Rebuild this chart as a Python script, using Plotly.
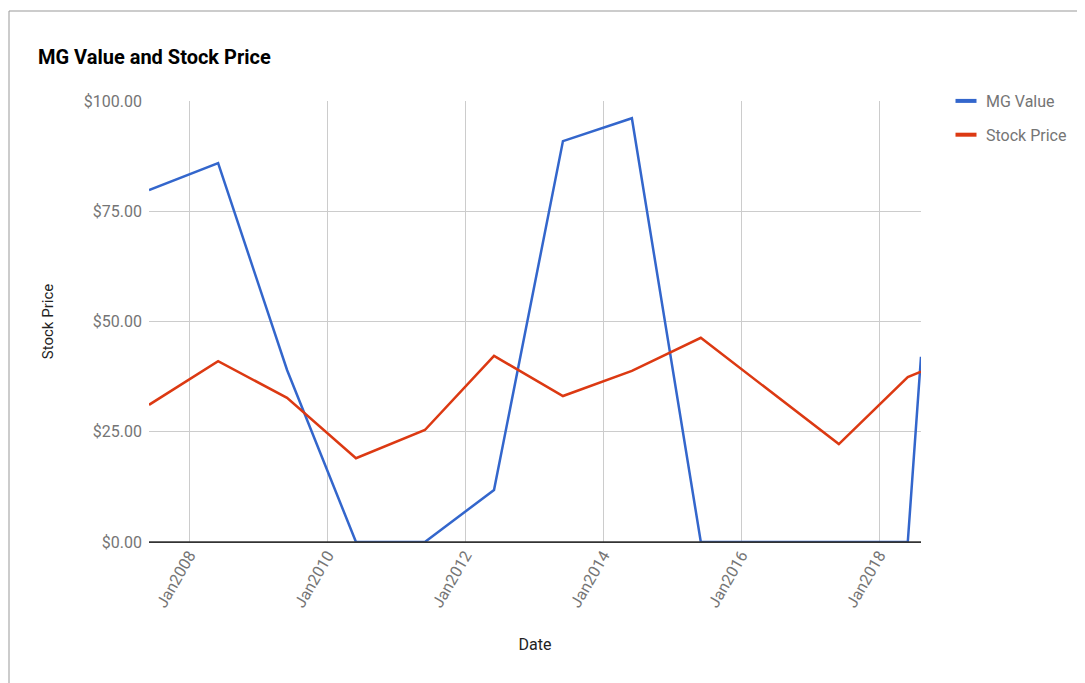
import plotly.graph_objects as go

dates = ["2007-06-01", "2008-06-01", "2009-06-01", "2010-06-01", "2011-06-01",
         "2012-06-01", "2013-06-01", "2014-06-01", "2015-06-01", "2017-06-01",
         "2018-06-01", "2018-08-10"]
mg_value = [79.8, 85.9, 39.0, 0.0, 0.0, 11.8, 90.9, 96.1, 0.0, 0.0, 0.0, 42.0]
stock_price = [31.1, 41.0, 32.7, 19.0, 25.4, 42.2, 33.1, 38.8, 46.3, 22.2, 37.4, 38.6]
series_names = ["MG Value", "Stock Price"]
series_colors = ["#3366cc", "#dc3912"]

tick_dates = ["2008-01-01", "2010-01-01", "2012-01-01", "2014-01-01", "2016-01-01", "2018-01-01"]
y_ticks = [0, 25, 50, 75, 100]

W, H = 1085, 683
L, R, T, B = 141, 913, 93, 534
PW, PH = R - L, B - T

fig = go.Figure()
for name, vals, col in zip(series_names, [mg_value, stock_price], series_colors):
    fig.add_trace(go.Scatter(x=dates, y=vals, mode="lines", name=name, showlegend=False,
                             line=dict(color=col, width=2.5)))
for i, (name, col) in enumerate(zip(series_names, series_colors)):
    fig.add_trace(go.Scatter(x=[None], y=[None], mode="markers", name=name, legendgroup=f"g{i}",
                             marker=dict(symbol="line-ew", size=15, color=col,
                                         line=dict(color=col, width=4))))

fig.update_layout(
    width=W, height=H,
    paper_bgcolor="white", plot_bgcolor="white",
    margin=dict(l=L, r=W - R, t=T, b=H - B),
    font=dict(family="Roboto", color="#757575", size=16),
    title=dict(text="<b>MG Value and Stock Price</b>", x=30 / W, xanchor="left",
               y=1 - 49 / H, yanchor="middle",
               font=dict(family="Roboto", size=20, color="#000000")),
    legend=dict(x=(978 - 40 - L) / PW, y=1 + 17 / PH, xanchor="left", yanchor="top",
                font=dict(size=16, color="#757575"), tracegroupgap=10,
                bgcolor="rgba(0,0,0,0)"),
    showlegend=True,
)
fig.update_xaxes(
    range=[dates[0], dates[-1]], tickvals=tick_dates, tickformat="%b%Y", tickangle=-60,
    showgrid=True, gridcolor="#cccccc", gridwidth=1, zeroline=False,
    title=dict(text="Date", font=dict(size=16, color="#222222"), standoff=28),
    tickfont=dict(size=16, color="#757575"), showline=False, ticks="",
)
fig.update_yaxes(
    range=[0, 100], tickvals=y_ticks, tickformat="$,.2f",
    showgrid=True, gridcolor="#cccccc", gridwidth=1,
    zeroline=True, zerolinecolor="#333333", zerolinewidth=1,
    title=dict(text="Stock Price", font=dict(size=15, color="#222222"), standoff=26),
    tickfont=dict(size=16, color="#757575"), ticks="", showline=False,
    ticklabelstandoff=6,
)
fig.add_shape(type="line", xref="paper", yref="y", x0=0, x1=1, y0=0, y1=0,
              line=dict(color="#333333", width=1.5), layer="above")
top_y = 1 + (T - 3) / PH
left_x = (1 - L) / PW
fig.add_shape(type="line", xref="paper", yref="paper",
              x0=left_x, x1=left_x, y0=-(H - B) / PH, y1=top_y,
              line=dict(color="#999999", width=1))
fig.add_shape(type="line", xref="paper", yref="paper",
              x0=left_x, x1=(W - L) / PW, y0=top_y, y1=top_y,
              line=dict(color="#999999", width=1))

fig.write_html("out.html")
